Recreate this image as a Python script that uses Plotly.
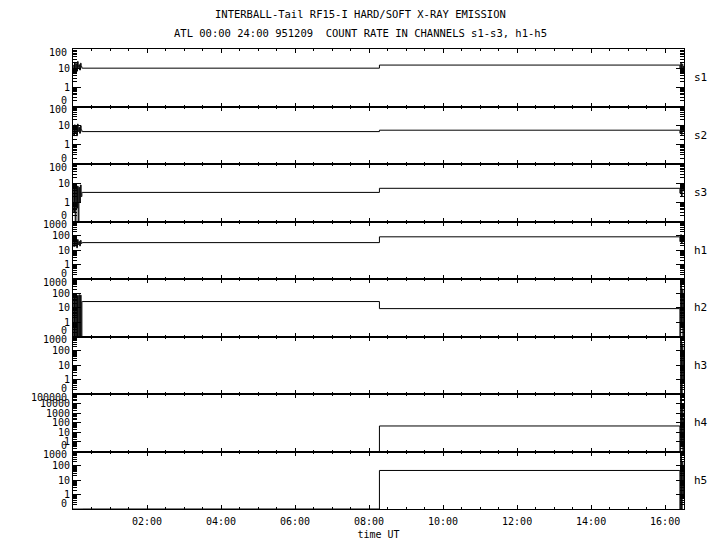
import plotly.graph_objects as go
from plotly.subplots import make_subplots

# ---------------- data ----------------
channels = ["s1", "s2", "s3", "h1", "h2", "h3", "h4", "h5"]
top_decade = [2, 2, 2, 3, 3, 3, 5, 3]          # log10 of the top tick of each panel

# times in hours UT
start_t = [0.00, 0.02, 0.04, 0.06, 0.08, 0.10, 0.12, 0.14, 0.16, 0.18, 0.20, 0.22, 0.24]
step_t = [0.25, 8.28, 16.38]
end_t = [16.40, 16.42, 16.44, 16.46, 16.48, 16.50]

# count rates before and after the 08:17 step
level_before = [10, 4.9, 3.3, 34, 27, 0, 0, 0]
level_after = [14.5, 5.8, 5.4, 86, 8.7, 0, 46, 48]

# start-of-day bursts
s1_start = [14, 8, 20, 9, 17, 7, 22, 11, 15, 8, 18, 12, 10]
s2_start = [7, 3, 11, 4, 9, 3, 12, 5, 8, 4, 10, 6, 4.9]
s3_start = [6, 0.3, 8, 0, 5, 0.5, 7, 0, 6, 1, 8, 2, 3.3]
h1_start = [45, 18, 60, 20, 50, 15, 55, 25, 40, 20, 48, 30, 34]
h2_start = [80, 0, 75, 0, 80, 0, 70, 0, 80, 0, 75, 0, 27]
h3_start = [0, 0, 0, 0, 0, 0, 0, 0, 0, 0, 0, 0, 0]
h4_start = [0, 0, 0, 0, 0, 0, 0, 0, 0, 0, 0, 0, 0]
h5_start = [0, 0, 0, 0, 0, 0, 0, 0, 0, 0, 0, 0, 0]

# end-of-interval bursts
s1_end = [9, 18, 8, 16, 10, 13]
s2_end = [4, 8, 3.5, 7, 5, 6]
s3_end = [3, 8, 2, 7, 4, 6]
h1_end = [40, 120, 30, 100, 60, 80]
h2_end = [0, 400, 1, 200, 0, 60]
h3_end = [0, 500, 0, 300, 1, 80]
h4_end = [0, 50000, 1, 3000, 0, 200]
h5_end = [0, 500, 0, 200, 1, 80]

starts = [s1_start, s2_start, s3_start, h1_start, h2_start, h3_start, h4_start, h5_start]
ends = [s1_end, s2_end, s3_end, h1_end, h2_end, h3_end, h4_end, h5_end]

x_tick_vals = [0, 2, 4, 6, 8, 10, 12, 14, 16]
x_tick_text = ["", "02:00", "04:00", "06:00", "08:00", "10:00", "12:00", "14:00", "16:00"]

title1 = "INTERBALL-Tail RF15-I HARD/SOFT X-RAY EMISSION"
title2 = "ATL 00:00 24:00 951209  COUNT RATE IN CHANNELS s1-s3, h1-h5"

# ---------------- figure ----------------
FONT = "DejaVu Sans Mono"
TF = dict(family=FONT, size=10, color="black")
n = len(channels)
fig = make_subplots(rows=n, cols=1, shared_xaxes=True, vertical_spacing=0)

floor = 0.1  # zero counts are drawn at the bottom ("0") of each log panel

annotations = []
for i, ch in enumerate(channels):
    x = start_t + step_t + end_t
    y = starts[i] + [level_before[i], level_after[i], level_after[i]] + ends[i]
    y = [v if v > 0 else floor for v in y]
    fig.add_trace(go.Scatter(x=x, y=y, mode="lines", line=dict(color="black", width=1, shape="hv"),
                             showlegend=False), row=i + 1, col=1)

    top = top_decade[i]
    decades = list(range(-1, top + 1))
    tv = [10.0 ** d for d in decades]
    tt = [""] + [str(int(10 ** d)) for d in decades[1:-1]] + [""]
    minor_vals = [m * 10.0 ** d for d in decades[:-1] for m in range(2, 10)]
    fig.update_yaxes(type="log", range=[-1, top], tickmode="array", tickvals=tv, ticktext=tt,
                     ticks="inside", ticklen=8, tickcolor="black", tickwidth=1,
                     minor=dict(tickmode="array", tickvals=minor_vals, ticks="inside", ticklen=4,
                                tickcolor="black", tickwidth=1, showgrid=False),
                     showline=True, linecolor="black", linewidth=1, mirror="ticks",
                     showgrid=False, zeroline=False, tickfont=TF,
                     row=i + 1, col=1)
    fig.update_xaxes(range=[0, 16.51], tickmode="array", tickvals=x_tick_vals, ticktext=x_tick_text,
                     ticks="inside", ticklen=4, tickcolor="black", tickwidth=1,
                     minor=dict(tickmode="linear", tick0=0, dtick=0.5, ticks="inside", ticklen=2,
                                tickcolor="black", tickwidth=1, showgrid=False),
                     showline=True, linecolor="black", linewidth=1, mirror="ticks",
                     showgrid=False, zeroline=False,
                     showticklabels=(i == n - 1), tickfont=TF, ticklabelstandoff=3,
                     row=i + 1, col=1)

    yref = "y domain" if i == 0 else f"y{i + 1} domain"
    # top and bottom ("0") labels, nudged inside the panel like the original
    annotations.append(dict(text=str(int(10 ** top)), xref="paper", yref=yref, x=0, y=1,
                            xanchor="right", yanchor="middle", xshift=-4, yshift=-3,
                            showarrow=False, font=TF))
    annotations.append(dict(text="0", xref="paper", yref=yref, x=0, y=0,
                            xanchor="right", yanchor="middle", xshift=-4, yshift=6,
                            showarrow=False, font=TF))

fig.update_xaxes(title=dict(text="time UT", font=TF, standoff=4), row=n, col=1)

# the page body adds an 8px offset, so the figure is sized/margined to compensate
OFF = 8
W, H = 720 - OFF, 550 - OFF
L, R, T, B = 73 - OFF, 36, 49 - OFF, 41
pw, ph = W - L - R, H - T - B

for i, ch in enumerate(channels):
    yc = 1 - (i + 0.5) / n
    annotations.append(dict(text=ch, xref="paper", yref="paper", x=1, y=yc, xshift=8,
                            xanchor="left", yanchor="middle", showarrow=False,
                            font=dict(family=FONT, size=11, color="black")))
annotations.append(dict(text=title1, xref="paper", yref="paper", x=(360 - 73) / pw, y=1, yshift=35,
                        xanchor="center", yanchor="middle", showarrow=False,
                        font=dict(family=FONT, size=10.5, color="black")))
annotations.append(dict(text=title2, xref="paper", yref="paper", x=(360 - 73) / pw, y=1, yshift=16,
                        xanchor="center", yanchor="middle", showarrow=False,
                        font=dict(family=FONT, size=10.5, color="black")))

fig.update_layout(width=W, height=H, margin=dict(l=L, r=R, t=T, b=B, autoexpand=False),
                  paper_bgcolor="white", plot_bgcolor="white",
                  annotations=annotations, font=TF)

fig.write_html("out.html")
